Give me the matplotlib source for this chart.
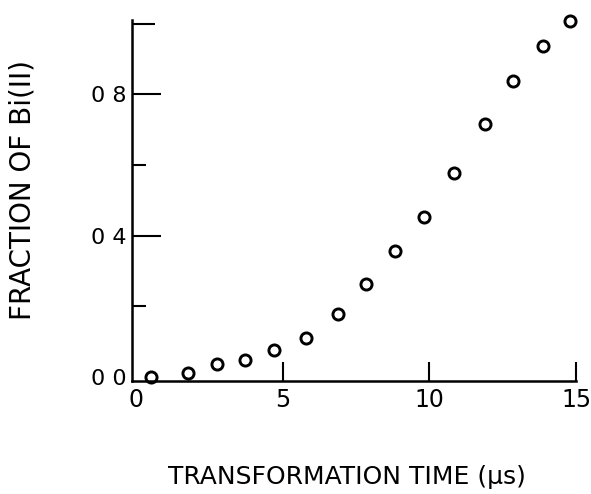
import matplotlib
matplotlib.use("Agg")
import matplotlib.pyplot as plt

# Data
time_us = [0.50, 1.76, 2.75, 3.72, 4.70, 5.79, 6.87, 7.82, 8.81, 9.81, 10.85, 11.90, 12.86, 13.89, 14.81]
fraction = [0.000, 0.013, 0.036, 0.048, 0.077, 0.112, 0.179, 0.263, 0.357, 0.454, 0.577, 0.717, 0.838, 0.936, 1.008]

x_ticks = [0, 5, 10, 15]
x_ticklabels = ["0", "5", "10", "15"]
y_major = [0.0, 0.4, 0.8]
y_major_labels = ["0 0", "0 4", "0 8"]
y_minor = [0.2, 0.6, 1.0]

fig = plt.figure(figsize=(5.91, 4.94), dpi=100)
ax = fig.add_axes([132/591, 1-381/494, (576-132)/591, (381-20)/494])

ax.plot(time_us, fraction, linestyle="none", marker="o", ms=8, mfc="white",
        mec="black", mew=2.1, clip_on=False)

ax.set_xlim(-0.15, 15)
ax.set_ylim(-0.011, 1.01)

for s in ["top", "right"]:
    ax.spines[s].set_visible(False)
for s in ["left", "bottom"]:
    ax.spines[s].set_linewidth(1.8)

ax.set_xticks(x_ticks)
ax.set_xticklabels(x_ticklabels)
ax.set_yticks(y_major)
ax.set_yticklabels(y_major_labels)
ax.set_yticks(y_minor, minor=True)

ax.tick_params(axis="x", which="major", direction="in", length=13.5, width=1.5,
               labelsize=17, pad=5)
ax.tick_params(axis="y", which="major", direction="in", length=21, width=1.5,
               labelsize=16, pad=4)
ax.tick_params(axis="y", which="minor", direction="in", length=10, width=1.5)
# top tick is a little longer; tick marks at the origin are hidden by the axes
ax.yaxis.get_minor_ticks()[2].tick1line.set_markersize(16.5)
ax.xaxis.get_major_ticks()[0].tick1line.set_visible(False)
ax.yaxis.get_major_ticks()[0].tick1line.set_visible(False)

ax.set_xlabel("TRANSFORMATION TIME (μs)", fontsize=18)
ax.xaxis.set_label_coords(0.484, -0.232)
ax.set_ylabel("FRACTION OF Bi(II)", fontsize=20)
ax.yaxis.set_label_coords(-0.214, 0.529)

fig.savefig("out.png", dpi=100)
